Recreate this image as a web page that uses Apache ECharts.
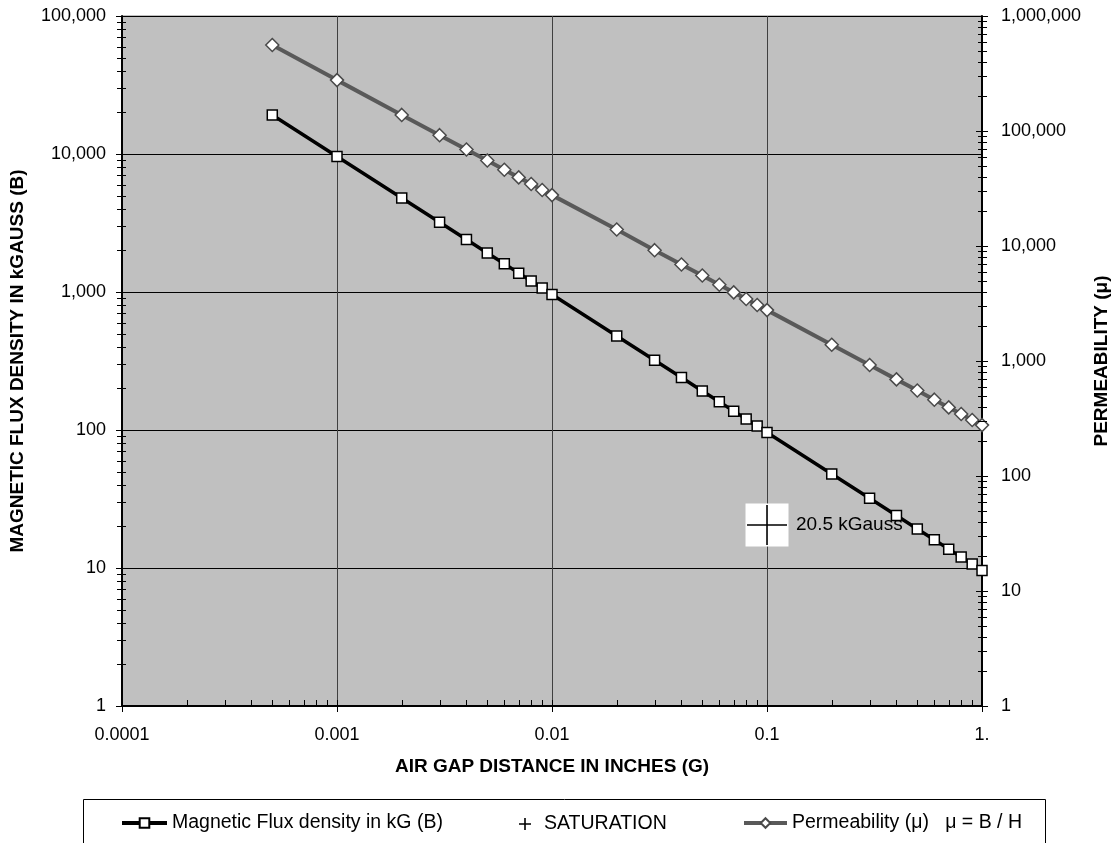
<!DOCTYPE html>
<html>
<head>
<meta charset="utf-8">
<script src="https://cdn.jsdelivr.net/npm/echarts@6/dist/echarts.min.js"></script>
<style>
html,body{margin:0;padding:0;background:#fff;}
#chart{width:1119px;height:843px;}
</style>
</head>
<body>
<div id="chart"></div>
<script>
// ---- data ----
const airGap = [0.0005, 0.001, 0.002, 0.003, 0.004, 0.005, 0.006, 0.007, 0.008, 0.009,
  0.01, 0.02, 0.03, 0.04, 0.05, 0.06, 0.07, 0.08, 0.09,
  0.1, 0.2, 0.3, 0.4, 0.5, 0.6, 0.7, 0.8, 0.9, 1];
const fluxB = [19200, 9600, 4800, 3200, 2400, 1920, 1600, 1370, 1200, 1070,
  960, 480, 320, 240, 192, 160, 137, 120, 107,
  96, 48, 32, 24, 19.2, 16, 13.7, 12, 10.7, 9.6];
const permeability = [560000, 277000, 138000, 92000, 69000, 55400, 46000, 39500, 34600, 30700,
  27700, 13900, 9200, 6900, 5540, 4600, 3950, 3460, 3070,
  2770, 1385, 923, 692, 554, 461, 395, 346, 307, 277];
const saturationPoint = [[0.1, 20.5]];

const nameB = 'Magnetic Flux density in kG (B)';
const nameSat = 'SATURATION';
const nameMu = 'Permeability (\u03bc)   \u03bc = B / H';

const xTickLabels = ['0.0001', '0.001', '0.01', '0.1', '1.'];
const yLeftTickLabels = ['1', '10', '100', '1,000', '10,000', '100,000'];
const yRightTickLabels = ['1', '10', '100', '1,000', '10,000', '100,000', '1,000,000'];

const X_MIN = 0.0001, X_MAX = 1;
const YL_MIN = 1, YL_MAX = 100000;
const YR_MIN = 1, YR_MAX = 1000000;

function decades(min, max) {
  const out = [];
  for (let e = Math.round(Math.log10(min)); e <= Math.round(Math.log10(max)); e++) out.push(Math.pow(10, e));
  return out;
}
function minors(min, max) {
  const out = [];
  decades(min, max).slice(0, -1).forEach(d => { for (let k = 2; k <= 9; k++) out.push(+(d * k).toPrecision(6)); });
  return out;
}

const FONT = 'Liberation Sans, Arial, sans-serif';

function tickSeries(values, kind, yAxisIndex, inner, outer) {
  return {
    type: 'custom',
    xAxisIndex: 0,
    yAxisIndex: yAxisIndex,
    silent: true,
    clip: false,
    z: 6,
    data: values.map(v => [v, v]),
    renderItem: function (params, api) {
      const v = api.value(0);
      let shape;
      if (kind === 'x') {
        const p = api.coord([v, YL_MIN]);
        const x = Math.round(p[0]) + 0.5;
        shape = { x1: x, y1: p[1] - inner, x2: x, y2: p[1] + outer };
      } else if (kind === 'yl') {
        const p = api.coord([X_MIN, v]);
        const y = Math.round(p[1]) + 0.5;
        shape = { x1: p[0] - outer, y1: y, x2: p[0] + inner, y2: y };
      } else {
        const p = api.coord([X_MAX, v]);
        const y = Math.round(p[1]) + 0.5;
        shape = { x1: p[0] - inner, y1: y, x2: p[0] + outer, y2: y };
      }
      return { type: 'line', shape: shape, style: { stroke: '#000', lineWidth: 1 } };
    }
  };
}

const chart = echarts.init(document.getElementById('chart'), null, { renderer: 'canvas' });

const option = {
  animation: false,
  backgroundColor: '#fff',
  textStyle: { fontFamily: FONT },
  graphic: [{
    type: 'rect', z: -10, silent: true,
    shape: { x: 83.5, y: 799.5, width: 962, height: 60 },
    style: { fill: '#fff', stroke: '#000', lineWidth: 1 }
  }],
  grid: {
    left: 120, right: 136, top: 16, bottom: 137,
    show: true, backgroundColor: '#C0C0C0', borderColor: '#808080', borderWidth: 1
  },
  legend: [
    {
      data: [{ name: nameB }], left: 115, top: 808, itemWidth: 45, itemHeight: 12,
      lineStyle: { width: 4 },
      selectedMode: false, textStyle: { fontSize: 19.5, fontFamily: FONT, color: '#000' }
    },
    {
      data: [{ name: nameSat, icon: 'path://M0,5.2h12v1.6h-12z M5.2,0h1.6v12h-1.6z' }],
      left: 514, top: 809, itemWidth: 12, itemHeight: 12,
      itemStyle: { opacity: 1, color: '#000' },
      selectedMode: false, textStyle: { fontSize: 19.5, fontFamily: FONT, color: '#000', padding: [0, 0, 0, 8] }
    },
    {
      data: [{ name: nameMu }], left: 737, top: 808, itemWidth: 43, itemHeight: 12,
      lineStyle: { width: 4 },
      selectedMode: false, textStyle: { fontSize: 19.5, fontFamily: FONT, color: '#000' }
    }
  ],
  xAxis: {
    type: 'log', logBase: 10, min: X_MIN, max: X_MAX,
    name: 'AIR GAP DISTANCE IN INCHES (G)', nameLocation: 'middle', nameGap: 51,
    nameTextStyle: { fontSize: 19, fontWeight: 'bold', color: '#000', fontFamily: FONT, verticalAlign: 'top' },
    axisLine: { show: true, lineStyle: { color: '#000', width: 2 } },
    axisTick: { show: false },
    axisLabel: {
      margin: 20, fontSize: 18, color: '#000', fontFamily: FONT,
      formatter: v => xTickLabels[Math.round(Math.log10(v) - Math.log10(X_MIN))]
    },
    splitLine: { show: true, lineStyle: { color: '#404040', width: 1 } }
  },
  yAxis: [
    {
      type: 'log', logBase: 10, min: YL_MIN, max: YL_MAX, position: 'left',
      name: 'MAGNETIC FLUX DENSITY IN kGAUSS (B)', nameLocation: 'middle', nameGap: 95, nameRotate: 90,
      nameTextStyle: { fontSize: 19, fontWeight: 'bold', color: '#000', fontFamily: FONT },
      axisLine: { show: true, lineStyle: { color: '#000', width: 2 } },
      axisTick: { show: false },
      axisLabel: {
        margin: 16, fontSize: 18, color: '#000', fontFamily: FONT,
        formatter: v => yLeftTickLabels[Math.round(Math.log10(v))]
      },
      splitLine: { show: true, lineStyle: { color: '#000', width: 1 } }
    },
    {
      type: 'log', logBase: 10, min: YR_MIN, max: YR_MAX, position: 'right',
      name: 'PERMEABILITY (\u03bc)', nameLocation: 'middle', nameGap: 102, nameRotate: 90,
      nameTextStyle: { fontSize: 19, fontWeight: 'bold', color: '#000', fontFamily: FONT },
      axisLine: { show: true, lineStyle: { color: '#000', width: 2 } },
      axisTick: { show: false },
      axisLabel: {
        margin: 19, fontSize: 18, color: '#000', fontFamily: FONT,
        formatter: v => yRightTickLabels[Math.round(Math.log10(v))]
      },
      splitLine: { show: false }
    }
  ],
  series: [
    {
      name: 'satBox', type: 'scatter', xAxisIndex: 0, yAxisIndex: 0, z: 1, silent: true,
      data: saturationPoint, symbol: 'rect', symbolSize: 43,
      itemStyle: { color: '#fff', opacity: 1 }
    },
    {
      name: nameSat, type: 'scatter', xAxisIndex: 0, yAxisIndex: 0, z: 1,
      data: saturationPoint,
      symbol: 'path://M0,19.2h40v1.6h-40z M19.2,0h1.6v40h-1.6z', symbolSize: 40,
      itemStyle: { color: '#000', opacity: 1 },
      label: {
        show: true, position: 'right', distance: 9, fontSize: 19, color: '#000', fontFamily: FONT,
        formatter: p => p.value[1] + ' kGauss'
      }
    },
    {
      name: nameB, type: 'line', xAxisIndex: 0, yAxisIndex: 0, z: 3,
      data: airGap.map((x, i) => [x, fluxB[i]]),
      symbol: 'rect', symbolSize: 10, showAllSymbol: true,
      lineStyle: { color: '#000', width: 3.5 },
      itemStyle: { color: '#fff', borderColor: '#000', borderWidth: 1.5 }
    },
    {
      name: nameMu, type: 'line', xAxisIndex: 0, yAxisIndex: 1, z: 3,
      data: airGap.map((x, i) => [x, permeability[i]]),
      symbol: 'diamond', symbolSize: 13, showAllSymbol: true,
      lineStyle: { color: '#595959', width: 4 },
      itemStyle: { color: '#fff', borderColor: '#4a4a4a', borderWidth: 1.5 }
    },
    tickSeries(minors(X_MIN, X_MAX), 'x', 0, 6, 0),
    tickSeries(decades(X_MIN, X_MAX), 'x', 0, 6, 6),
    tickSeries(minors(YL_MIN, YL_MAX), 'yl', 0, 4, 5),
    tickSeries(decades(YL_MIN, YL_MAX), 'yl', 0, 6, 6),
    tickSeries(minors(YR_MIN, YR_MAX), 'yr', 1, 4, 5),
    tickSeries(decades(YR_MIN, YR_MAX), 'yr', 1, 6, 6)
  ]
};
chart.setOption(option);
</script>
</body>
</html>
